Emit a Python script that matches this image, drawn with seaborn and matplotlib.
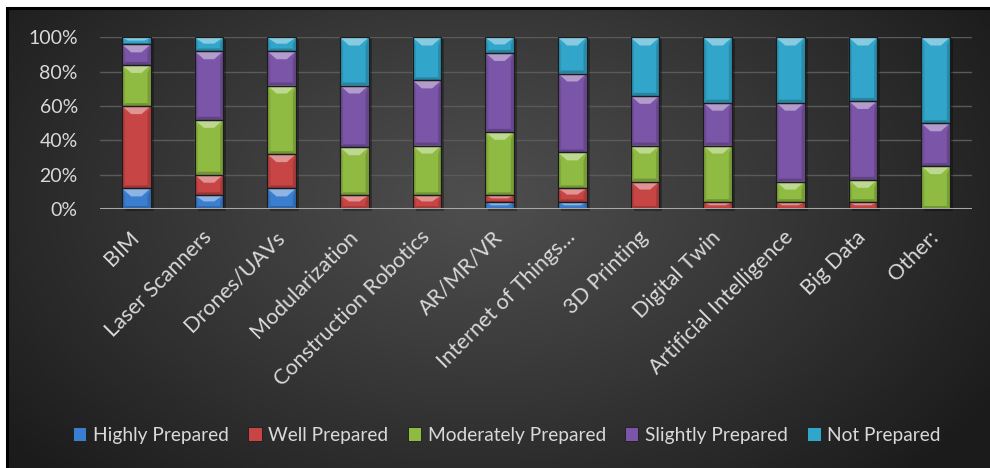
import numpy as np
import pandas as pd
import matplotlib
matplotlib.use("Agg")
import matplotlib.pyplot as plt
import seaborn as sns
from matplotlib.patches import Polygon, Rectangle, Patch
from matplotlib.colors import to_rgb
from matplotlib.ticker import PercentFormatter

# ---- data (percent of respondents) ----
categories = ["BIM", "Laser Scanners", "Drones/UAVs", "Modularization",
              "Construction Robotics", "AR/MR/VR", "Internet of Things…",
              "3D Printing", "Digital Twin", "Artificial Intelligence",
              "Big Data", "Other:"]
levels = ["Highly Prepared", "Well Prepared", "Moderately Prepared",
          "Slightly Prepared", "Not Prepared"]
highly = [12, 8, 12, 0, 0, 4, 4, 0, 0, 0, 0, 0]
well = [48, 12, 20, 8, 8, 4, 8, 16, 4, 4, 4, 0]
moderately = [24, 32, 40, 28, 29, 37, 21, 21, 33, 12, 13, 25]
slightly = [12, 40, 20, 36, 38, 46, 46, 29, 25, 46, 46, 25]
not_prepared = [4, 8, 8, 28, 25, 9, 21, 34, 38, 38, 37, 50]

level_colors = ["#3b7ecf", "#c84545", "#8fbb42", "#7b55a7", "#31a6ca"]

sns.set_theme(style="dark")
plt.rcParams["font.family"] = ["Lato", "DejaVu Sans"]

W, H = 990, 468
fig = plt.figure(figsize=(W / 100, H / 100), dpi=100)
fig.patch.set_facecolor("white")

# ---- dark radial-gradient chart background ----
bg = fig.add_axes([7 / W, 0, 1 - 7 / W, 1 - 8 / H])
gx, gy = np.meshgrid(np.linspace(0, 1, 600), np.linspace(0, 1, 300))
r = np.sqrt(((gx - 0.48) / 0.62) ** 2 + ((gy - 0.42) / 0.85) ** 2)
t = np.clip(r, 0, 1) ** 1.1
inner = np.array(to_rgb("#4e4e4e"))
outer = np.array(to_rgb("#1b1b1b"))
img = inner[None, None, :] * (1 - t[..., None]) + outer[None, None, :] * t[..., None]
bg.imshow(img, extent=[0, 1, 0, 1], aspect="auto", origin="upper",
          interpolation="bilinear")
bg.set_axis_off()
fig.patches.append(Rectangle((7 / W, -0.01), 1.02, 1 - 8 / H + 0.01,
                             transform=fig.transFigure, fill=False,
                             edgecolor="black", lw=2.2, zorder=10))

# ---- main axes ----
ax = fig.add_axes([100 / W, 1 - 209 / H, 872 / W, 171.5 / H])
ax.set_facecolor("none")

df = pd.DataFrame({"category": categories,
                   levels[0]: highly, levels[1]: well, levels[2]: moderately,
                   levels[3]: slightly, levels[4]: not_prepared})
cum = df[levels].cumsum(axis=1) / 100.0
cum.insert(0, "category", categories)

bar_w = 0.39
# cumulative totals drawn from the top layer down give the stacked look
for lvl, col in reversed(list(zip(levels, level_colors))):
    sns.barplot(data=cum, x="category", y=lvl, color=col, width=bar_w,
                saturation=1, errorbar=None, edgecolor="none", zorder=3, ax=ax)

ax.set_ylim(0, 1)
ax.set_xlim(-0.5, len(categories) - 0.5)

# pixel -> data scale for bevel decorations
px_x = (872 / len(categories))
px_y = 171.5


def mix(c, other, a):
    c = np.array(to_rgb(c))
    o = np.array(to_rgb(other))
    return tuple(c * (1 - a) + o * a)


totals = cum[levels[-1]].to_numpy()
# soft drop shadow behind each stack
for j, tot in enumerate(totals):
    ax.add_patch(Rectangle((j - bar_w / 2 + 3 / px_x, -2 / px_y), bar_w, tot,
                           facecolor="black", alpha=0.3, lw=0, zorder=2,
                           clip_on=False))

prev = np.zeros(len(categories))
for lvl, col in zip(levels, level_colors):
    top = cum[lvl].to_numpy()
    for j in range(len(categories)):
        y0, y1 = prev[j], top[j]
        if y1 - y0 <= 1e-6:
            continue
        x0, x1 = j - bar_w / 2, j + bar_w / 2
        seg_px = (y1 - y0) * px_y
        ht = min(8, seg_px * 0.45) / px_y
        hb = min(3, seg_px * 0.2) / px_y
        dx = min(9, seg_px * 0.9) / px_x
        sw = min(3, seg_px * 0.3) / px_x
        # side bevels
        ax.add_patch(Polygon([(x0, y0), (x0 + sw, y0 + hb), (x0 + sw, y1 - ht),
                              (x0, y1)], closed=True,
                             facecolor=mix(col, "black", 0.1), lw=0, zorder=4))
        ax.add_patch(Polygon([(x1, y0), (x1 - sw, y0 + hb), (x1 - sw, y1 - ht),
                              (x1, y1)], closed=True,
                             facecolor=mix(col, "black", 0.16), lw=0, zorder=4))
        # bottom bevel (shade)
        ax.add_patch(Polygon([(x0, y0), (x1, y0), (x1 - sw, y0 + hb),
                              (x0 + sw, y0 + hb)], closed=True,
                             facecolor=mix(col, "black", 0.2), lw=0, zorder=4))
        # top bevel (highlight)
        ax.add_patch(Polygon([(x0, y1), (x1, y1), (x1 - dx, y1 - ht),
                              (x0 + dx, y1 - ht)], closed=True,
                             facecolor=mix(col, "white", 0.42), lw=0, zorder=4))
        ax.add_patch(Rectangle((x0, y0), bar_w, y1 - y0, fill=False,
                               edgecolor="#1c1c1c", lw=0.9, zorder=5))
    prev = top

# ---- axes styling ----
for s in ax.spines.values():
    s.set_visible(False)
ax.set_yticks(np.arange(0, 1.01, 0.2))
ax.yaxis.set_major_formatter(PercentFormatter(1.0, decimals=0))
ax.yaxis.grid(True, color="#5a5a5a", lw=1.0)
ax.xaxis.grid(False)
ax.set_axisbelow(True)
ax.axhline(0, color="#a8a8a8", lw=2.2, zorder=6)
ax.set_xlabel("")
ax.set_ylabel("")
ax.tick_params(axis="y", length=0, pad=16, labelsize=14, labelcolor="#d9d9d9")
ax.tick_params(axis="x", length=0, pad=18, labelsize=15.5, labelcolor="#d9d9d9")
for lab in ax.get_xticklabels():
    lab.set_rotation(45)
    lab.set_ha("right")
    lab.set_va("center")
    lab.set_rotation_mode("anchor")

# ---- legend ----
handles = [Patch(facecolor=c, edgecolor="#1c1c1c", lw=0.6) for c in level_colors]
fig.legend(handles, levels, loc="center", bbox_to_anchor=(0.512, 1 - 435 / H),
           ncol=5, frameon=False, fontsize=13.8, labelcolor="#d9d9d9",
           handlelength=0.7, handleheight=0.7, handletextpad=0.35,
           columnspacing=1.0)

fig.savefig("out.png", dpi=100, facecolor=fig.get_facecolor())
